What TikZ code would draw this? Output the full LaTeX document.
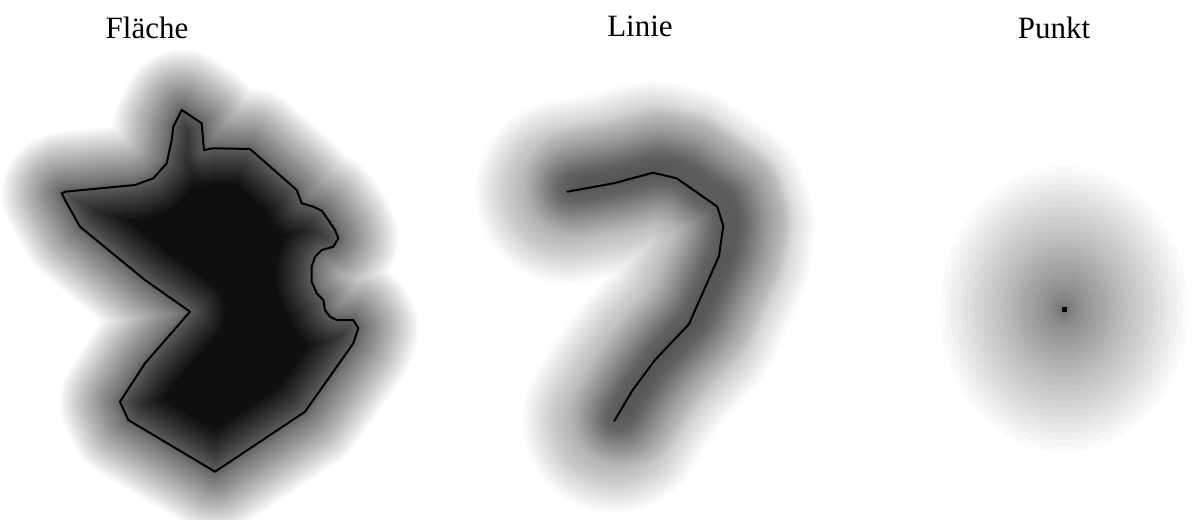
\documentclass[tikz,border=0pt]{standalone}
\usepackage{fontspec}
\setmainfont{Liberation Serif}
\definecolor{ink}{gray}{0.06}
\begin{document}
\begin{tikzpicture}[x=1pt,y=-1pt,
  title/.style={font=\fontsize{31}{36}\selectfont, anchor=base, inner sep=0pt},
  outline/.style={draw=black, line width=2pt, line join=round, line cap=round},
  glowout/.style={ink, opacity=0.0226, line join=round, line cap=round},
  glowin/.style={white, opacity=0.0125, line join=round},
  glowline/.style={ink, line join=round, line cap=round}]
\useasboundingbox (0,0) rectangle (1193,519);
\fill[white] (0,0) rectangle (1193,519);

\def\flaeche{(181.7,110) -- (201.7,123.3) -- (204,150) -- (213.3,148.3) -- (250,149) -- (296.7,190) -- (301.7,203.3) -- (313.3,206.7) -- (321.7,210.7) -- (328.3,220) -- (335,230) -- (338.3,238.3) -- (333.3,246.7) -- (321.7,250) -- (315,256.7) -- (311.7,266.7) -- (311.7,281.7) -- (316.7,293.3) -- (323.3,300) -- (325,310) -- (330,316.7) -- (336.7,320) -- (353.3,320) -- (358.3,328.3) -- (353.3,343.3) -- (305,411.7) -- (215,471.7) -- (128.3,420) -- (120,401.7) -- (145,363.3) -- (190,311.7) -- (145,280) -- (80,226.7) -- (65,200) -- (61.7,193.3) -- (65,191.7) -- (135,185) -- (153.3,178.3) -- (166.7,163.3) -- (171.7,140) -- (173.3,126.7) -- cycle}
\def\linie{(567.3,191.7) -- (615,183) -- (653,172.7) -- (676.7,178.3) -- (717.3,206.7) -- (723.3,226) -- (719,256) -- (689,324) -- (655,360) -- (632.7,390) -- (614.3,421)}

% titles
\node[title] (tflaeche) at (147,38) {Fläche};
\node[title] (tlinie) at (640,37) {Linie};
\node[title] (tpunkt) at (1054,38) {Punkt};

% area: outer blur
\foreach \i in {1,...,40}{
  \pgfmathsetmacro\w{2*60*(\i/40)^1.4}
  \draw[glowout, line width=\w pt] \flaeche;
}
% area: inner part
\begin{scope}
  \clip \flaeche;
  \fill[ink] \flaeche;
  \foreach \i in {1,...,40}{
    \pgfmathsetmacro\w{2*36*(\i/40)^1.2}
    \draw[glowin, line width=\w pt] \flaeche;
  }
\end{scope}
\draw[outline] \flaeche;

% line: broad blur
\foreach \i in {1,...,40}{
  \pgfmathsetmacro\w{2*92*(\i/40)^1.1}
  \draw[glowline, opacity=0.0148, line width=\w pt] \linie;
}
% line: core blur, shifted to the outer side of the bend
\begin{scope}[shift={(14,-10)}]
  \foreach \i in {1,...,30}{
    \pgfmathsetmacro\w{2*56*(\i/30)}
    \draw[glowline, opacity=0.0123, line width=\w pt] \linie;
  }
\end{scope}
\draw[outline] \linie;

% point: blur
\foreach \i in {1,...,40}{
  \pgfmathsetmacro\r{124*(\i/40)^1.7}
  \fill[ink, opacity=0.0203] (1064,309) ellipse [x radius=\r pt, y radius=1.15*\r pt];
}
\node[fill=black, minimum size=5pt, inner sep=0pt] (punkt) at (1064,309) {};
\end{tikzpicture}
\end{document}
